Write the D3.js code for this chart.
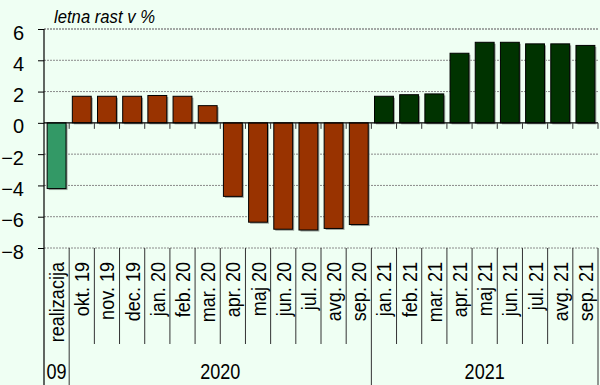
<!DOCTYPE html>
<html>
<head>
<meta charset="utf-8">
<script src="https://cdn.jsdelivr.net/npm/d3@7"></script>
<style>
  html, body { margin: 0; padding: 0; background: #effff3; }
  svg { display: block; }
  text { font-family: "Liberation Sans", Arial, sans-serif; fill: #000; }
</style>
</head>
<body>
<svg id="chart" width="600" height="385"></svg>
<script>
// Annual growth rate, %
const categories = ["realizacija", "okt. 19", "nov. 19", "dec. 19", "jan. 20", "feb. 20", "mar. 20",
  "apr. 20", "maj 20", "jun. 20", "jul. 20", "avg. 20", "sep. 20",
  "jan. 21", "feb. 21", "mar. 21", "apr. 21", "maj 21", "jun. 21", "jul. 21", "avg. 21", "sep. 21"];
const values = [-4.2, 1.7, 1.7, 1.7, 1.75, 1.7, 1.1,
  -4.7, -6.35, -6.8, -6.85, -6.75, -6.5,
  1.7, 1.8, 1.85, 4.45, 5.15, 5.15, 5.05, 5.05, 4.95];
const groupLabels = ["09", "2020", "2021"];
const groupSizes = [1, 12, 9];
const groupColors = ["#339966", "#993300", "#003300"];
const yTicks = [6, 4, 2, 0, -2, -4, -6, -8];
const title = "letna rast v %";

const svg = d3.select("#chart");
const plotLeft = 44, plotRight = 598, plotTop = 29, plotBottom = 248;
const catLineEnd = 344, svgH = 385;

const x = d3.scaleBand().domain(categories).range([plotLeft, plotRight]).paddingInner(0.25).paddingOuter(0.125);
const y = d3.scaleLinear().domain([-8, 6]).range([plotBottom, plotTop]);
const step = x.step();
const boundary = i => plotLeft + i * step;

// group index of each category
const groupOf = [];
groupSizes.forEach((n, g) => { for (let k = 0; k < n; k++) groupOf.push(g); });
const groupStart = groupSizes.map((n, g) => d3.sum(groupSizes.slice(0, g)));

// horizontal grid lines
svg.append("g").selectAll("line")
  .data(yTicks.filter(d => d !== 0))
  .join("line")
  .attr("x1", plotLeft).attr("x2", plotRight)
  .attr("y1", d => y(d)).attr("y2", d => y(d))
  .attr("stroke", "#8a8a8a")
  .attr("stroke-width", d => d === 6 ? 1.6 : 1)
  .attr("stroke-dasharray", "2,1");

// bars with a light drop shadow
const bars = svg.append("g");
bars.selectAll("rect.shadow")
  .data(values)
  .join("rect")
  .attr("class", "shadow")
  .attr("x", (d, i) => x(categories[i]) + 1.5)
  .attr("y", d => Math.min(y(d), y(0)) + 1.5)
  .attr("width", x.bandwidth())
  .attr("height", d => Math.abs(y(d) - y(0)))
  .attr("fill", "#9aa39c");
bars.selectAll("rect.bar")
  .data(values)
  .join("rect")
  .attr("class", "bar")
  .attr("x", (d, i) => x(categories[i]))
  .attr("y", d => Math.min(y(d), y(0)))
  .attr("width", x.bandwidth())
  .attr("height", d => Math.abs(y(d) - y(0)))
  .attr("fill", (d, i) => groupColors[groupOf[i]])
  .attr("stroke", "#000")
  .attr("stroke-width", 1);

// zero axis with small ticks at category boundaries
svg.append("line")
  .attr("x1", plotLeft).attr("x2", plotRight)
  .attr("y1", y(0)).attr("y2", y(0))
  .attr("stroke", "#000").attr("stroke-width", 1.2);
svg.append("g").selectAll("line")
  .data(d3.range(1, categories.length + 1))
  .join("line")
  .attr("x1", boundary).attr("x2", boundary)
  .attr("y1", y(0)).attr("y2", y(0) + 6)
  .attr("stroke", "#333");

// y axis
const yAxis = svg.append("g").attr("transform", `translate(${plotLeft},0)`)
  .call(d3.axisLeft(y).tickValues(yTicks).tickSize(6).tickFormat(d3.format("d")));
yAxis.select(".domain").remove();
yAxis.selectAll(".tick line").attr("stroke", "#000");
yAxis.selectAll(".tick text")
  .attr("x", -20)
  .attr("dy", "0.5em")
  .style("font-size", "20px")
  .style("font-family", "'Liberation Sans', Arial, sans-serif")
  .attr("fill", "#000");
svg.append("line")
  .attr("x1", plotLeft).attr("x2", plotLeft)
  .attr("y1", plotTop).attr("y2", svgH)
  .attr("stroke", "#000").attr("stroke-width", 1.2);

// category separators below the plot
svg.append("g").selectAll("line")
  .data(d3.range(1, categories.length + 1))
  .join("line")
  .attr("x1", boundary).attr("x2", boundary)
  .attr("y1", plotBottom)
  .attr("y2", i => (groupStart.includes(i) || i === categories.length) ? svgH : catLineEnd)
  .attr("stroke", "#333");

// rotated category labels
svg.append("g").selectAll("text")
  .data(categories)
  .join("text")
  .attr("transform", d => `translate(${x(d) + x.bandwidth() / 2 + 7.5},262) rotate(-90) scale(0.86,1)`)
  .attr("text-anchor", "end")
  .style("font-size", "21px")
  .text(d => d);

// group (year) labels
svg.append("g").selectAll("text")
  .data(groupLabels)
  .join("text")
  .attr("transform", (d, g) => {
    const cx = (boundary(groupStart[g]) + boundary(groupStart[g] + groupSizes[g])) / 2;
    return `translate(${cx},379) scale(0.82,1)`;
  })
  .attr("text-anchor", "middle")
  .style("font-size", "22px")
  .text(d => d);

// title
svg.append("text")
  .attr("x", 54).attr("y", 23)
  .attr("textLength", 101)
  .attr("lengthAdjust", "spacingAndGlyphs")
  .style("font-size", "17.5px")
  .style("font-style", "italic")
  .text(title);
</script>
</body>
</html>
